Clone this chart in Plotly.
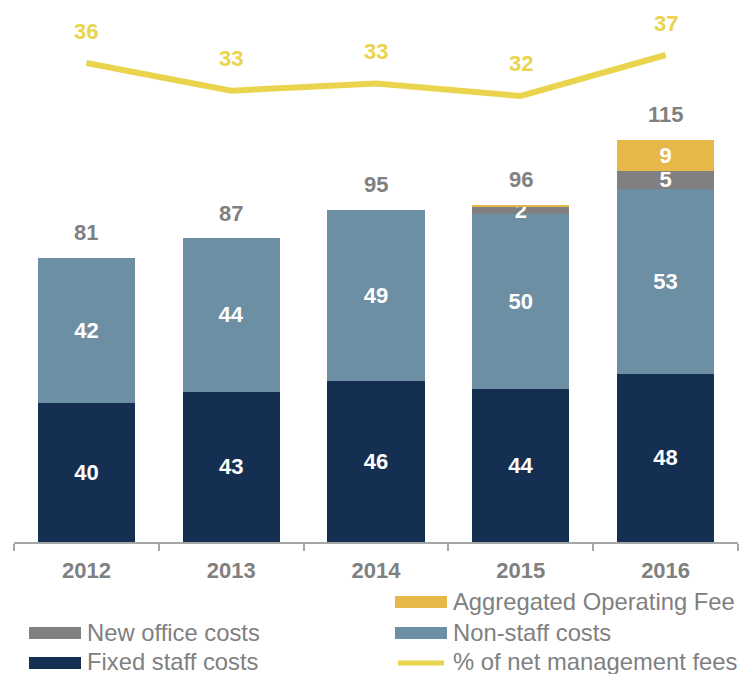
import plotly.graph_objects as go

# Cost breakdown by year (EUR m) and cost ratio (% of net management fees)
years = ["2012", "2013", "2014", "2015", "2016"]
fixed_staff = [39.6, 43.0, 46.0, 43.6, 48.1]
non_staff = [41.6, 43.8, 48.9, 50.1, 52.9]
new_office = [0.0, 0.0, 0.0, 2.2, 5.1]
agg_fee = [0.0, 0.0, 0.0, 0.5, 8.9]
pct_fees = [35.7, 32.6, 33.4, 32.0, 36.6]

totals = [a + b + c + d for a, b, c, d in zip(fixed_staff, non_staff, new_office, agg_fee)]

NAVY = "#152F52"
STEEL = "#6D8FA3"
GREY = "#808080"
GOLD = "#E6B84A"
YELLOW = "#EAD44E"
TEXT_GREY = "#808080"
FONT = "Arial, Liberation Sans, sans-serif"

W, H = 741, 674
ML, MR, MT, MB = 14, 3, 10, 132
PW, PH = W - ML - MR, H - MT - MB


def seg_labels(vals):
    return [f"{v:.0f}" if v >= 1 else "" for v in vals]


fig = go.Figure()
for name, vals, color in [
    ("Fixed staff costs", fixed_staff, NAVY),
    ("Non-staff costs", non_staff, STEEL),
    ("New office costs", new_office, GREY),
    ("Aggregated Operating Fee", agg_fee, GOLD),
]:
    fig.add_trace(go.Bar(
        x=years, y=vals, name=name, marker=dict(color=color, line=dict(width=0)),
        text=seg_labels(vals), textposition="inside", insidetextanchor="middle",
        textangle=0, textfont=dict(family=FONT, size=22, color="white", weight="bold"),
        hoverinfo="skip", showlegend=False,
    ))

fig.add_trace(go.Scatter(
    x=years, y=pct_fees, yaxis="y2", mode="lines", name="% of net management fees",
    line=dict(color=YELLOW, width=6), hoverinfo="skip", showlegend=False,
))

annotations = []
# totals above the stacks (category index positions)
for i, t in enumerate(totals):
    annotations.append(dict(
        x=i, y=t, xref="x", yref="y", text=f"{t:.0f}", showarrow=False,
        yshift=25, yanchor="middle",
        font=dict(family=FONT, size=22, color=TEXT_GREY, weight="bold"),
    ))
# ratio labels above the line
for i, p in enumerate(pct_fees):
    annotations.append(dict(
        x=i, y=p, xref="x", yref="y2", text=f"{p:.0f}", showarrow=False,
        yshift=32, yanchor="middle",
        font=dict(family=FONT, size=22, color=YELLOW, weight="bold"),
    ))


def px_x(px):
    return (px - ML) / PW


def px_y(py):
    return (MT + PH - py) / PH


# custom legend: two columns under the axis
shapes = []
legend_items = [
    ("rect", GOLD, "Aggregated Operating Fee", 395, 596),
    ("rect", STEEL, "Non-staff costs", 395, 627),
    ("line", YELLOW, "% of net management fees", 395, 657),
    ("rect", GREY, "New office costs", 29, 627),
    ("rect", NAVY, "Fixed staff costs", 29, 657),
]
for kind, color, label, x0, y0 in legend_items:
    if kind == "rect":
        shapes.append(dict(
            type="rect", xref="paper", yref="paper",
            x0=px_x(x0), x1=px_x(x0 + 52), y0=px_y(y0 + 12), y1=px_y(y0),
            fillcolor=color, line=dict(width=0),
        ))
    else:
        shapes.append(dict(
            type="line", xref="paper", yref="paper",
            x0=px_x(x0 + 3), x1=px_x(x0 + 49), y0=px_y(y0 + 6), y1=px_y(y0 + 6),
            line=dict(color=color, width=5),
        ))
    annotations.append(dict(
        x=px_x(x0 + 56), y=px_y(y0 + 5), xref="paper", yref="paper",
        text=label, showarrow=False, xanchor="left", yanchor="middle",
        font=dict(family=FONT, size=23.8, color=TEXT_GREY),
    ))

fig.update_layout(
    width=W, height=H,
    margin=dict(l=ML, r=MR, t=MT, b=MB),
    paper_bgcolor="white", plot_bgcolor="white",
    barmode="stack", bargap=0.33,
    uniformtext=dict(minsize=22, mode="show"),
    xaxis=dict(
        type="category", categoryorder="array", categoryarray=years,
        range=[-0.5, len(years) - 0.5], autorange=False,
        showline=True, linecolor="#A6A6A6", linewidth=1.5,
        ticks="outside", tickson="boundaries", ticklen=7, tickcolor="#A6A6A6",
        tickwidth=1.5, ticklabelstandoff=8, showgrid=False, zeroline=False,
        tickfont=dict(family=FONT, size=22, color=TEXT_GREY, weight="bold"),
    ),
    yaxis=dict(range=[0, PH / 3.5], visible=False, showgrid=False, zeroline=False),
    yaxis2=dict(range=[36.6 - (MT + PH - 55) / 8.91, 36.6 + (55 - MT) / 8.91],
                overlaying="y", visible=False, showgrid=False, zeroline=False),
    shapes=shapes,
    annotations=annotations,
    showlegend=False,
)

fig.write_html("out.html")
